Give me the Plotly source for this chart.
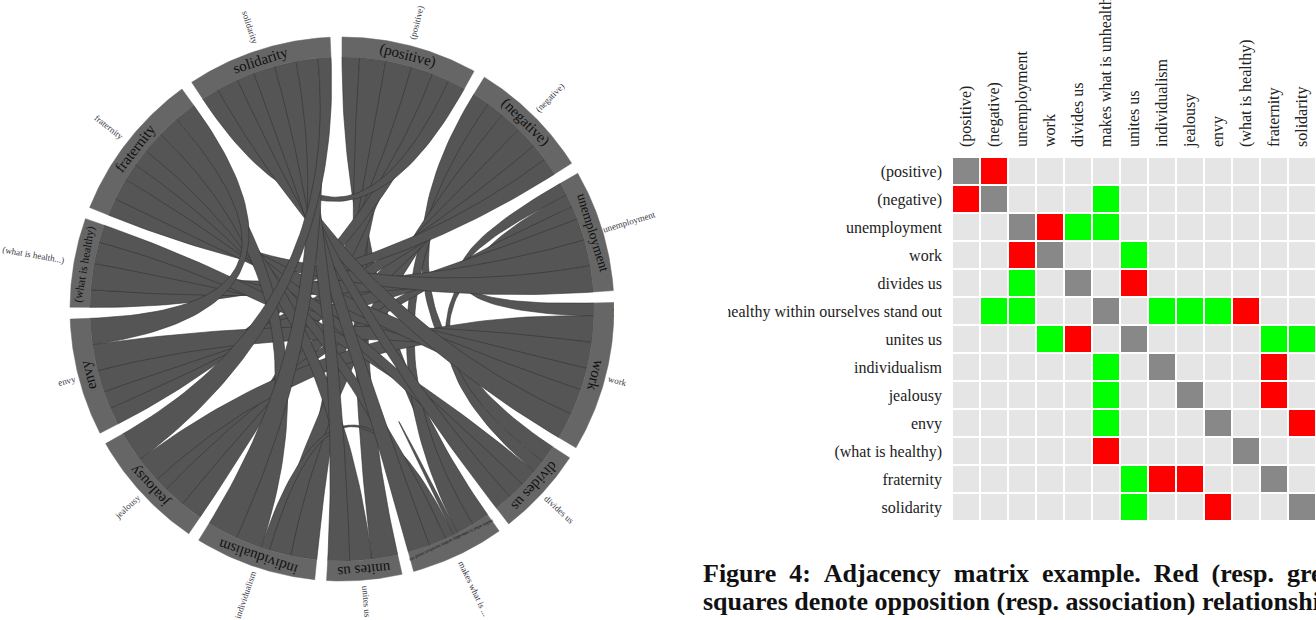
import numpy as np
import plotly.graph_objects as go

# ------------------------------------------------------------------ data
terms = ["(positive)", "(negative)", "unemployment", "work", "divides us",
         "makes what is unhealthy within ourselves stand out", "unites us",
         "individualism", "jealousy", "envy", "(what is healthy)",
         "fraternity", "solidarity"]

outer_labels = ["(positive)", "(negative)", "unemployment", "work", "divides us",
                "makes what is ...", "unites us", "individualism", "jealousy",
                "envy", "(what is health...)", "fraternity", "solidarity"]

# chord diagram weights (row = group, column = partner group)
chord_weights = [
    [0, 0, 0, 0, 0, 4, 6, 6, 5, 4, 0, 0, 4],
    [0, 0, 0, 0, 4, 4, 0, 5, 5, 4, 4, 0, 0],
    [0, 0, 0, 3, 3, 0, 0, 0, 3, 5, 6, 6, 0],
    [0, 0, 3, 0, 0, 0, 0, 0, 6, 6, 5, 6, 6],
    [0, 4, 3, 0, 0, 0, 0, 0, 0, 0, 4, 4, 4],
    [4, 4, 0, 0, 0, 1, 0, 2, 0, 0, 0, 4, 5],
    [6, 0, 0, 0, 0, 0, 0, 0, 0, 0, 0, 5, 5],
    [6, 5, 0, 0, 0, 2, 0, 0, 0, 0, 0, 6, 7],
    [5, 5, 3, 6, 0, 0, 0, 0, 0, 0, 0, 0, 7],
    [4, 4, 5, 6, 0, 0, 0, 0, 0, 0, 0, 6, 0],
    [0, 4, 6, 5, 4, 0, 0, 0, 0, 0, 0, 0, 0],
    [0, 0, 4, 5, 4, 4, 5, 5, 0, 5, 0, 0, 0],
    [4, 0, 0, 5, 4, 5, 5, 5, 3, 0, 0, 0, 0],
]

# adjacency matrix codes: 0 none, 1 same term, 2 opposition, 3 association
relation_codes = [
    [1, 2, 0, 0, 0, 0, 0, 0, 0, 0, 0, 0, 0],
    [2, 1, 0, 0, 0, 3, 0, 0, 0, 0, 0, 0, 0],
    [0, 0, 1, 2, 3, 3, 0, 0, 0, 0, 0, 0, 0],
    [0, 0, 2, 1, 0, 0, 3, 0, 0, 0, 0, 0, 0],
    [0, 0, 3, 0, 1, 0, 2, 0, 0, 0, 0, 0, 0],
    [0, 3, 3, 0, 0, 1, 0, 3, 3, 3, 2, 0, 0],
    [0, 0, 0, 3, 2, 0, 1, 0, 0, 0, 0, 3, 3],
    [0, 0, 0, 0, 0, 3, 0, 1, 0, 0, 0, 2, 0],
    [0, 0, 0, 0, 0, 3, 0, 0, 1, 0, 0, 2, 0],
    [0, 0, 0, 0, 0, 3, 0, 0, 0, 1, 0, 0, 2],
    [0, 0, 0, 0, 0, 2, 0, 0, 0, 0, 1, 0, 0],
    [0, 0, 0, 0, 0, 0, 3, 2, 2, 0, 0, 1, 0],
    [0, 0, 0, 0, 0, 0, 3, 0, 0, 2, 0, 0, 1],
]

caption_lines = ["Figure 4: Adjacency matrix example. Red (resp. green)",
                 "squares denote opposition (resp. association) relationships."]

# ------------------------------------------------------------------ style
W_PX, H_PX = 1316, 620
SERIF = "Liberation Serif"
RIBBON_FILL = "#555555"
RIBBON_EDGE = "#333333"
RING_FILL = "#666666"
R_IN, R_OUT = 252, 272
PAD_DEG = 2.5
inner_font = {"(what is healthy)": 11.5, "unemployment": 13.5,
              "makes what is unhealthy within ourselves stand out": 4.5}

fig = go.Figure()

# ------------------------------------------------------------------ chord layout
W = np.array(chord_weights, dtype=float)
n = len(terms)
pad = np.deg2rad(PAD_DEG)
k = (2 * np.pi - n * pad) / W.sum()
groups, sub = [], {}
pos = 0.0
for i in range(n):
    g0 = pos
    for j in range(n):
        sub[(i, j)] = (pos, pos + W[i, j] * k)
        pos += W[i, j] * k
    groups.append((g0, pos))
    pos += pad


def pol(r, a):
    return np.array([r * np.sin(a), r * np.cos(a)])


def arc(r, a0, a1):
    m = max(2, int(abs(a1 - a0) / np.deg2rad(0.5)) + 2)
    t = np.linspace(a0, a1, m)
    return np.column_stack([r * np.sin(t), r * np.cos(t)])


def bez(p0, p2, m=60):
    t = np.linspace(0, 1, m)[:, None]
    return (1 - t) ** 2 * p0 + t ** 2 * p2


for i in range(n):
    for j in range(i, n):
        if W[i, j] == 0 and W[j, i] == 0:
            continue
        s = sub[(i, j)]
        t = sub[(j, i)]
        parts = [arc(R_IN, s[0], s[1])]
        if i == j:
            parts.append(bez(pol(R_IN, s[1]), pol(R_IN, s[0])))
        else:
            parts.append(bez(pol(R_IN, s[1]), pol(R_IN, t[0])))
            parts.append(arc(R_IN, t[0], t[1]))
            parts.append(bez(pol(R_IN, t[1]), pol(R_IN, s[0])))
        pts = np.vstack(parts)
        fig.add_trace(go.Scatter(x=pts[:, 0], y=pts[:, 1], mode="lines", fill="toself",
                                 fillcolor=RIBBON_FILL,
                                 line=dict(color=RIBBON_EDGE, width=0.6),
                                 hoverinfo="skip", showlegend=False,
                                 xaxis="x", yaxis="y"))

annotations = []
for i, (a0, a1) in enumerate(groups):
    outer = arc(R_OUT, a0, a1)
    inner = arc(R_IN, a1, a0)
    pts = np.vstack([outer, inner, outer[:1]])
    fig.add_trace(go.Scatter(x=pts[:, 0], y=pts[:, 1], mode="lines", fill="toself",
                             fillcolor=RING_FILL, line=dict(color=RING_FILL, width=0.5),
                             hoverinfo="skip", showlegend=False, xaxis="x", yaxis="y"))
    mid = (a0 + a1) / 2
    mdeg = np.rad2deg(mid)
    fsize = inner_font.get(terms[i], 15)
    r_lab = (R_IN + R_OUT) / 2 if fsize > 5 else R_IN + 4
    p = pol(r_lab, mid)
    annotations.append(dict(x=p[0], y=p[1], xref="x", yref="y", text=terms[i],
                            showarrow=False, textangle=mdeg,
                            font=dict(family=SERIF, size=fsize, color="#111111"),
                            xanchor="center", yanchor="middle"))
    wtxt = 0.42 * 9 * len(outer_labels[i])
    q = pol(R_OUT + 5 + wtxt / 2, mid)
    ang = mdeg - 90 if mdeg < 180 else mdeg - 270
    annotations.append(dict(x=q[0], y=q[1], xref="x", yref="y", text=outer_labels[i],
                            showarrow=False, textangle=ang,
                            font=dict(family=SERIF, size=9, color="#3a3a48"),
                            xanchor="center", yanchor="middle"))

# ------------------------------------------------------------------ adjacency matrix
colorscale = [[0.0, "#e5e5e5"], [1 / 6, "#e5e5e5"], [1 / 6, "#888888"], [0.5, "#888888"],
              [0.5, "#ff0000"], [5 / 6, "#ff0000"], [5 / 6, "#00ff00"], [1.0, "#00ff00"]]
fig.add_trace(go.Heatmap(z=relation_codes, x=list(range(n)), y=list(range(n)),
                         zmin=0, zmax=3, colorscale=colorscale, showscale=False,
                         xgap=2, ygap=2, hoverinfo="skip", xaxis="x2", yaxis="y2"))

for li, line in enumerate(caption_lines):
    txt = line
    if li == 0:
        txt = line.replace(" ", "\u00a0\u00a0")
    annotations.append(dict(x=701 / W_PX, y=1 - (573 + 28 * li) / H_PX, xref="paper",
                            yref="paper", text="<b>" + txt + "</b>", showarrow=False,
                            xanchor="left", yanchor="middle", height=27,
                            font=dict(family=SERIF, size=26, color="#111111")))

fig.update_layout(
    width=W_PX, height=H_PX,
    margin=dict(l=0, r=0, t=0, b=0, autoexpand=False),
    paper_bgcolor="white", plot_bgcolor="white",
    showlegend=False,
    annotations=annotations,
    xaxis=dict(domain=[0, 684 / W_PX], range=[-342, 342], visible=False, fixedrange=True,
               automargin=False),
    yaxis=dict(domain=[0, 1], range=[-311, 309], visible=False, fixedrange=True,
               automargin=False),
    xaxis2=dict(domain=[952 / W_PX, 1], anchor="y2", side="top", range=[-0.5, n - 0.5],
                tickmode="array", tickvals=list(range(n)), ticktext=terms,
                tickangle=-90, ticks="", ticklabelstandoff=9, showgrid=False,
                zeroline=False, showline=False, automargin=False,
                tickfont=dict(family=SERIF, size=16, color="#222222"), fixedrange=True),
    yaxis2=dict(domain=[99 / H_PX, 463 / H_PX], anchor="x2", range=[n - 0.5, -0.5],
                tickmode="array", tickvals=list(range(n)), ticktext=terms,
                ticks="", ticklabelstandoff=9, showgrid=False, zeroline=False,
                showline=False, automargin=False,
                tickfont=dict(family=SERIF, size=16, color="#222222"),
                fixedrange=True),
    shapes=[dict(type="rect", xref="paper", yref="paper", x0=614 / W_PX, x1=728 / W_PX,
                 y0=1 - 324 / H_PX, y1=1 - 296 / H_PX, fillcolor="white",
                 line=dict(width=0), layer="above")],
)

fig.write_html("out.html", config={"displayModeBar": False},
               post_script="document.body.style.margin='0';document.body.style.padding='0';")
